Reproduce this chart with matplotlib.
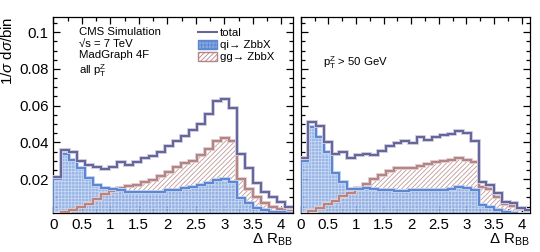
import numpy as np
import matplotlib
matplotlib.use("Agg")
import matplotlib.pyplot as plt
from matplotlib.patches import Patch
from matplotlib.lines import Line2D
import matplotlib.patheffects as pe
from matplotlib.ticker import MultipleLocator

plt.rcParams['font.family'] = ['Liberation Sans', 'DejaVu Sans']
plt.rcParams['mathtext.fontset'] = 'custom'
plt.rcParams['mathtext.rm'] = 'Liberation Sans'
plt.rcParams['mathtext.it'] = 'Liberation Sans:italic'
plt.rcParams['hatch.linewidth'] = 0.6

# binning: 30 bins of 0.14 in Delta R_BB
edges = np.linspace(0, 4.2, 31)

# all pT(Z)
total_all = [0.0210, 0.0358, 0.0347, 0.0300, 0.0278, 0.0265, 0.0257, 0.0265, 0.0292, 0.0278,
             0.0295, 0.0313, 0.0328, 0.0350, 0.0378, 0.0405, 0.0432, 0.0465, 0.0500, 0.0555,
             0.0628, 0.0636, 0.0585, 0.0336, 0.0258, 0.0180, 0.0131, 0.0104, 0.0076, 0.0049]
qi_all = [0.0200, 0.0336, 0.0304, 0.0258, 0.0205, 0.0168, 0.0152, 0.0145, 0.0138, 0.0130,
          0.0127, 0.0130, 0.0128, 0.0132, 0.0140, 0.0142, 0.0150, 0.0155, 0.0165, 0.0178,
          0.0195, 0.0200, 0.0185, 0.0095, 0.0068, 0.0042, 0.0030, 0.0022, 0.0018, 0.0015]
gg_all = [0.0012, 0.0022, 0.0031, 0.0048, 0.0066, 0.0092, 0.0118, 0.0135, 0.0152, 0.0160,
          0.0170, 0.0182, 0.0195, 0.0215, 0.0240, 0.0265, 0.0285, 0.0300, 0.0330, 0.0362,
          0.0410, 0.0425, 0.0405, 0.0200, 0.0148, 0.0100, 0.0070, 0.0050, 0.0036, 0.0026]

# pT(Z) > 50 GeV
total_50 = [0.0315, 0.0510, 0.0490, 0.0400, 0.0335, 0.0345, 0.0315, 0.0330, 0.0334, 0.0330,
            0.0355, 0.0380, 0.0395, 0.0405, 0.0398, 0.0431, 0.0415, 0.0427, 0.0438, 0.0444,
            0.0463, 0.0449, 0.0409, 0.0185, 0.0167, 0.0122, 0.0076, 0.0067, 0.0042, 0.0033]
qi_50 = [0.0300, 0.0485, 0.0430, 0.0345, 0.0235, 0.0185, 0.0148, 0.0145, 0.0150, 0.0148,
         0.0140, 0.0138, 0.0135, 0.0135, 0.0140, 0.0138, 0.0140, 0.0138, 0.0142, 0.0148,
         0.0155, 0.0150, 0.0140, 0.0060, 0.0045, 0.0030, 0.0022, 0.0016, 0.0012, 0.0010]
gg_50 = [0.0012, 0.0028, 0.0042, 0.0062, 0.0082, 0.0105, 0.0125, 0.0150, 0.0175, 0.0200,
         0.0222, 0.0245, 0.0258, 0.0258, 0.0262, 0.0272, 0.0280, 0.0292, 0.0298, 0.0302,
         0.0315, 0.0306, 0.0292, 0.0155, 0.0144, 0.0104, 0.0062, 0.0055, 0.0035, 0.0025]

c_tot = '#66669a'
c_qi = '#5d87d2'
c_qi_fill = '#86a8e2'
c_gg = '#b38586'


def draw(ax, total, qi, gg, xmax):
    # gg: hatched
    ax.stairs(gg, edges, baseline=0, fill=True, facecolor='white', edgecolor='#c09a9b',
              hatch='///////', lw=0, zorder=1)
    ax.stairs(gg, edges, baseline=0, color=c_gg, lw=1.5, zorder=3,
              path_effects=[pe.withStroke(linewidth=2.8, foreground='#e3cfd0')])
    # qi: blue filled with light cross pattern
    ax.stairs(qi, edges, baseline=0, fill=True, facecolor=c_qi_fill, alpha=0.85,
              lw=0, zorder=2)
    ax.stairs(qi, edges, baseline=0, fill=True, facecolor='none', edgecolor='#c9d9f4',
              hatch='+++++', lw=0, zorder=2)
    ax.stairs(qi, edges, baseline=0, color=c_qi, lw=1.5, zorder=4,
              path_effects=[pe.withStroke(linewidth=2.8, foreground='#c3d4f2')])
    # total
    ax.stairs(total, edges, baseline=None, color=c_tot, lw=1.5, zorder=5,
              path_effects=[pe.withStroke(linewidth=2.8, foreground='#cfcfe3')])

    ax.set_xlim(0, xmax)
    ax.set_ylim(0.0015, 0.1083)
    ax.xaxis.set_major_locator(MultipleLocator(0.5))
    ax.xaxis.set_minor_locator(MultipleLocator(0.25))
    ax.yaxis.set_major_locator(MultipleLocator(0.02))
    ax.yaxis.set_minor_locator(MultipleLocator(0.005))
    ax.tick_params(which='both', direction='in', top=True, right=True, labelsize=10.8, width=0.9)
    ax.tick_params(which='major', length=5)
    ax.tick_params(which='minor', length=3)
    ax.xaxis.set_major_formatter(plt.FuncFormatter(lambda v, p: f'{v:g}'))
    ax.yaxis.set_major_formatter(plt.FuncFormatter(lambda v, p: f'{v:g}'))
    for s in ax.spines.values():
        s.set_linewidth(0.9)
    ax.set_xlabel(r'$\Delta$ R$_{\rm BB}$', loc='right', fontsize=10.8, labelpad=0)


fig = plt.figure(figsize=(5.4, 2.52), dpi=100)
ax1 = fig.add_axes([53.3 / 540, 1 - 213 / 252, 239.4 / 540, 196 / 252])
ax2 = fig.add_axes([300.7 / 540, 1 - 213 / 252, 229.3 / 540, 196 / 252])

draw(ax1, total_all, qi_all, gg_all, 4.2)
draw(ax2, total_50, qi_50, gg_50, 4.15)
ax2.tick_params(labelleft=False)

ax1.set_ylabel(r'1/$\sigma$ d$\sigma$/bin', loc='top', fontsize=10.8, labelpad=3)

fs = 8.2
ax1.text(0.107, 0.925, 'CMS Simulation', transform=ax1.transAxes, fontsize=fs, va='center')
ax1.text(0.107, 0.865, '\u221as = 7 TeV', transform=ax1.transAxes, fontsize=fs, va='center')
ax1.text(0.107, 0.805, 'MadGraph 4F', transform=ax1.transAxes, fontsize=fs, va='center')
ax1.text(0.107, 0.726, r'all p$_{\rm T}^{\rm Z}$', transform=ax1.transAxes, fontsize=fs, va='center')
ax2.text(0.097, 0.765, r'p$_{\rm T}^{\rm Z}$ > 50 GeV', transform=ax2.transAxes, fontsize=fs, va='center')

handles = [Line2D([], [], color=c_tot, lw=1.5),
           Patch(facecolor=c_qi_fill, edgecolor=c_qi, hatch='+++++', lw=1),
           Patch(facecolor='white', edgecolor=c_gg, hatch='///////', lw=1)]
labels = ['total', 'qi\u2192 ZbbX', 'gg\u2192 ZbbX']
ax1.legend(handles, labels, loc='upper left', bbox_to_anchor=(0.57, 0.985), frameon=False,
           fontsize=fs, handlelength=1.7, handleheight=0.85, handletextpad=0.25,
           labelspacing=0.12, borderpad=0.2)

fig.savefig('out.png', dpi=100)
